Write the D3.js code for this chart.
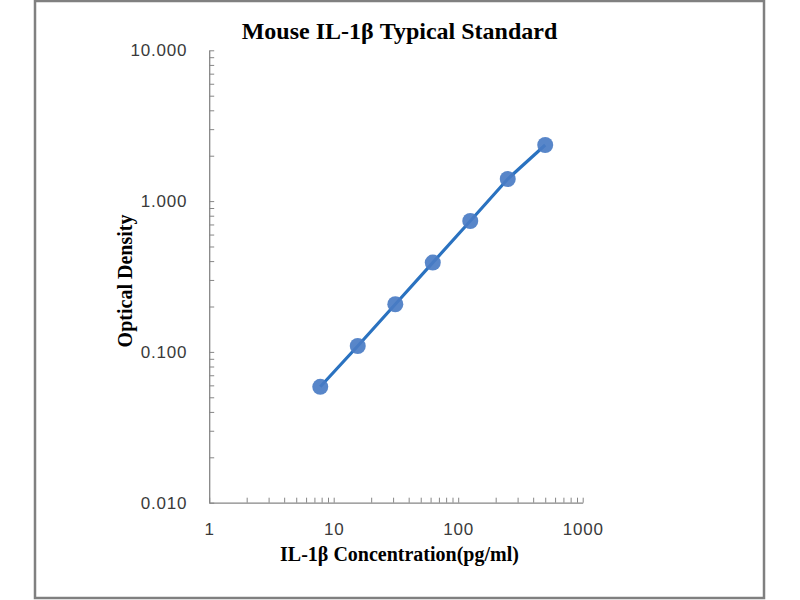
<!DOCTYPE html>
<html>
<head>
<meta charset="utf-8">
<script src="https://cdn.jsdelivr.net/npm/d3@7"></script>
<style>
  body { margin: 0; background: #fff; }
  .ticklbl text { font-family: "Liberation Sans", Arial, sans-serif; font-size: 17px; letter-spacing: 0.8px; fill: #3a3a3a; }
  .ttl { font-family: "Liberation Serif", "Times New Roman", serif; font-weight: bold; fill: #000; }
</style>
</head>
<body>
<div id="chart"></div>
<script>
// standard curve data
var concentrations = [7.8, 15.6, 31.25, 62.5, 125, 250, 500];
var odValues = [0.0587, 0.1094, 0.207, 0.391, 0.738, 1.401, 2.356];
var xTicks = [1, 10, 100, 1000];
var yTicks = [0.01, 0.1, 1, 10];

var width = 800,
    height = 600,
    margin = { top: 50.3, right: 217.3, bottom: 97.3, left: 209.2 };

var svg = d3.select('#chart')
    .append('svg')
    .attr('width', width)
    .attr('height', height);

// outer frame
svg.append('rect')
    .attr('x', 35)
    .attr('y', 1)
    .attr('width', 729)
    .attr('height', 597)
    .attr('fill', 'none')
    .attr('stroke', '#808080')
    .attr('stroke-width', 2.5);

var xScale = d3.scaleLog()
    .domain([1, 1000])
    .range([margin.left, width - margin.right]);
var yScale = d3.scaleLog()
    .domain([0.01, 10])
    .range([height - margin.bottom, margin.top]);

// minor + major tick positions for each decade
function logTicks(majors) {
    var t = [];
    majors.forEach(function (m, i) {
        t.push(m);
        if (i < majors.length - 1) {
            for (var k = 2; k <= 9; k++) t.push(m * k);
        }
    });
    return t;
}

var x0 = height - margin.bottom;

// x axis: ticks pointing in (up), labels below
svg.append('g')
    .attr('transform', `translate(0,${x0})`)
    .call(d3.axisTop(xScale).tickValues(logTicks(xTicks)).tickSize(5).tickFormat('').tickSizeOuter(0))
    .call(g => g.select('.domain').attr('stroke', '#868686').attr('stroke-width', 1.3))
    .call(g => g.selectAll('.tick line').attr('stroke', '#868686'));

svg.append('g')
    .attr('class', 'ticklbl')
    .attr('transform', `translate(0,${x0})`)
    .call(d3.axisBottom(xScale).tickValues(xTicks).tickSize(0).tickPadding(20).tickFormat(d3.format('d')))
    .call(g => g.select('.domain').remove())
    .call(g => g.selectAll('text').attr('font-family', null).attr('font-size', null));

// y axis: ticks pointing in (right), labels left
svg.append('g')
    .attr('transform', `translate(${margin.left},0)`)
    .call(d3.axisRight(yScale).tickValues(logTicks(yTicks)).tickSize(5).tickFormat('').tickSizeOuter(0))
    .call(g => g.select('.domain').attr('stroke', '#868686').attr('stroke-width', 1.3))
    .call(g => g.selectAll('.tick line').attr('stroke', '#868686'));

svg.append('g')
    .attr('class', 'ticklbl')
    .attr('transform', `translate(${margin.left},0)`)
    .call(d3.axisLeft(yScale).tickValues(yTicks).tickSize(0).tickPadding(22).tickFormat(d3.format('.3f')))
    .call(g => g.select('.domain').remove())
    .call(g => g.selectAll('text').attr('font-family', null).attr('font-size', null));

// curve
var line = d3.line()
    .x((d, i) => xScale(concentrations[i]))
    .y(d => yScale(d));

svg.append('path')
    .datum(odValues)
    .attr('d', line)
    .attr('fill', 'none')
    .attr('stroke', '#2a72c0')
    .attr('stroke-width', 3.2);

svg.selectAll('.dot')
    .data(odValues)
    .enter()
    .append('circle')
    .attr('class', 'dot')
    .attr('cx', (d, i) => xScale(concentrations[i]))
    .attr('cy', d => yScale(d))
    .attr('r', 8)
    .attr('fill', '#4a7cc4')
    .attr('opacity', 0.92);

// titles
svg.append('text')
    .attr('class', 'ttl')
    .attr('x', 399.5)
    .attr('y', 39)
    .attr('text-anchor', 'middle')
    .style('font-size', '24px')
    .text('Mouse IL-1β Typical Standard');

svg.append('text')
    .attr('class', 'ttl')
    .attr('x', 399.5)
    .attr('y', 561)
    .attr('text-anchor', 'middle')
    .style('font-size', '20px')
    .text('IL-1β Concentration(pg/ml)');

svg.append('text')
    .attr('class', 'ttl')
    .attr('transform', 'translate(131.5,281) rotate(-90)')
    .attr('text-anchor', 'middle')
    .style('font-size', '20px')
    .text('Optical Density');
</script>
</body>
</html>
